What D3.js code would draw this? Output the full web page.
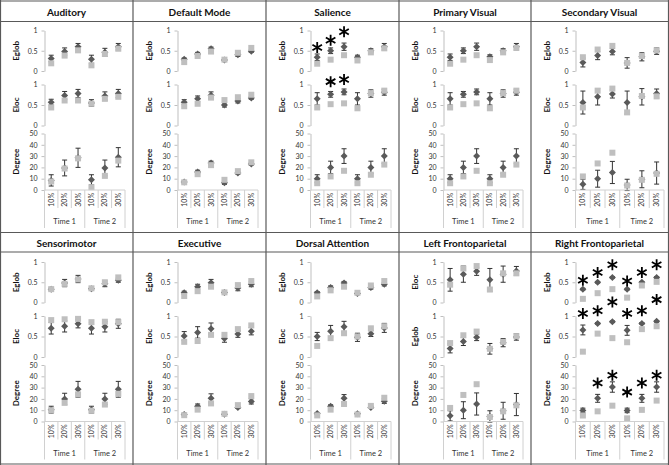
<!DOCTYPE html>
<html lang="en">
<head>
<meta charset="utf-8">
<style>
  body { margin: 0; background: #fff; }
  svg { display: block; font-family: Lato, "Open Sans", sans-serif; }
</style>
</head>
<body>
<script src="https://cdn.jsdelivr.net/npm/d3@7"></script>
<script>

// ---- data ----
var panels = ["Auditory", "Default Mode", "Salience", "Primary Visual", "Secondary Visual",
              "Sensorimotor", "Executive", "Dorsal Attention", "Left Frontoparietal", "Right Frontoparietal"];
var cats = ["10%", "20%", "30%", "10%", "20%", "30%"];
var times = ["Time 1", "Time 2"];
var topLabels = ["Eglob", "Eglob", "Eglob", "Eglob", "Eglob", "Eglob", "Eglob", "Eglob", "Eloc", "Eglob"];
var midLabels = ["Eloc", "Eloc", "Eloc", "Eloc", "Eloc", "Eloc", "Eloc", "Eloc", "Eglob", "Eloc"];
var effTicks = [0, 0.5, 1];
var degTicks = [0, 10, 20, 30, 40, 50];

// top sub-chart (Eglob, Eloc for Left Frontoparietal)
var topDark = [
  [0.31, 0.48, 0.60, 0.29, 0.46, 0.60],
  [0.29, 0.42, 0.55, 0.27, 0.40, 0.49],
  [0.34, 0.50, 0.60, 0.34, 0.50, 0.60],
  [0.34, 0.50, 0.60, 0.35, 0.50, 0.60],
  [0.21, 0.38, 0.48, 0.20, 0.35, 0.49],
  [0.33, 0.48, 0.58, 0.34, 0.46, 0.55],
  [0.24, 0.39, 0.49, 0.25, 0.36, 0.45],
  [0.24, 0.37, 0.48, 0.22, 0.37, 0.45],
  [0.56, 0.70, 0.77, 0.56, 0.70, 0.78],
  [0.33, 0.50, 0.62, 0.33, 0.50, 0.62]
];
var topErr = [
  [0.08, 0.09, 0.08, 0.10, 0.10, 0.08],
  [0.03, 0.04, 0.04, 0.03, 0.04, 0.03],
  [0.08, 0.07, 0.09, 0.05, 0.05, 0.08],
  [0.08, 0.07, 0.09, 0.05, 0.05, 0.08],
  [0.11, 0.10, 0.08, 0.13, 0.10, 0.08],
  [0.03, 0.09, 0.09, 0.03, 0.07, 0.05],
  [0.04, 0.06, 0.08, 0.02, 0.07, 0.06],
  [0.03, 0.04, 0.04, 0.02, 0.04, 0.04],
  [0.28, 0.20, 0.10, 0.28, 0.20, 0.11],
  [0.02, 0.02, 0.02, 0.02, 0.02, 0.02]
];
var topLight = [
  [0.19, 0.38, 0.51, 0.14, 0.42, 0.55],
  [0.22, 0.37, 0.48, 0.28, 0.45, 0.57],
  [0.18, 0.28, 0.39, 0.26, 0.46, 0.56],
  [0.18, 0.28, 0.39, 0.27, 0.46, 0.57],
  [0.34, 0.53, 0.62, 0.20, 0.37, 0.51],
  [0.33, 0.46, 0.57, 0.35, 0.50, 0.62],
  [0.16, 0.28, 0.39, 0.25, 0.43, 0.53],
  [0.15, 0.30, 0.39, 0.24, 0.42, 0.53],
  [0.44, 0.84, 0.90, 0.32, 0.72, 0.72],
  [0.09, 0.23, 0.33, 0.12, 0.42, 0.51]
];

// middle sub-chart (Eloc, Eglob for Left Frontoparietal)
var midDark = [
  [0.57, 0.73, 0.78, 0.55, 0.72, 0.78],
  [0.57, 0.65, 0.74, 0.50, 0.60, 0.67],
  [0.65, 0.76, 0.82, 0.65, 0.78, 0.81],
  [0.65, 0.76, 0.82, 0.65, 0.78, 0.81],
  [0.56, 0.70, 0.77, 0.56, 0.70, 0.78],
  [0.70, 0.75, 0.81, 0.70, 0.74, 0.81],
  [0.51, 0.60, 0.69, 0.45, 0.56, 0.63],
  [0.50, 0.63, 0.74, 0.48, 0.57, 0.71],
  [0.21, 0.38, 0.48, 0.20, 0.35, 0.49],
  [0.66, 0.82, 0.86, 0.65, 0.82, 0.87]
];
var midErr = [
  [0.07, 0.10, 0.10, 0.08, 0.10, 0.10],
  [0.06, 0.07, 0.08, 0.05, 0.05, 0.03],
  [0.15, 0.07, 0.07, 0.15, 0.09, 0.07],
  [0.15, 0.07, 0.07, 0.15, 0.09, 0.07],
  [0.28, 0.20, 0.10, 0.28, 0.20, 0.11],
  [0.14, 0.14, 0.10, 0.14, 0.13, 0.11],
  [0.11, 0.14, 0.14, 0.09, 0.08, 0.09],
  [0.10, 0.14, 0.13, 0.10, 0.07, 0.11],
  [0.11, 0.10, 0.08, 0.13, 0.10, 0.08],
  [0.12, 0.02, 0.02, 0.12, 0.02, 0.02]
];
var midLight = [
  [0.44, 0.61, 0.61, 0.53, 0.65, 0.70],
  [0.47, 0.53, 0.68, 0.62, 0.69, 0.75],
  [0.44, 0.52, 0.54, 0.42, 0.79, 0.85],
  [0.44, 0.52, 0.54, 0.42, 0.79, 0.85],
  [0.44, 0.85, 0.90, 0.32, 0.72, 0.71],
  [0.90, 0.92, 0.93, 0.85, 0.86, 0.85],
  [0.37, 0.39, 0.54, 0.54, 0.68, 0.77],
  [0.27, 0.46, 0.58, 0.50, 0.70, 0.75],
  [0.34, 0.53, 0.62, 0.20, 0.37, 0.51],
  [0.13, 0.57, 0.46, 0.36, 0.68, 0.75]
];

// Degree
var degDark = [
  [8.5, 19.5, 28.5, 9, 19.5, 29],
  [7, 16, 24, 6.5, 15, 23],
  [10, 20, 30, 10, 20, 30],
  [10, 20, 30, 10, 20, 30],
  [5, 10, 15.5, 4.5, 9.5, 15],
  [10.5, 20, 28.5, 10.5, 20, 28.5],
  [6.2, 13.5, 20.5, 6.5, 12.5, 17.8],
  [7, 13.5, 20.5, 6.8, 12.5, 18],
  [5, 10, 15.5, 4.5, 9.5, 15],
  [9.8, 20.5, 30.5, 9.8, 20.5, 30.5]
];
var degErr = [
  [5, 7, 8.5, 4.5, 7, 8.5],
  [1, 1.5, 1.5, 1.5, 1, 1],
  [3.5, 5.5, 6.5, 3.5, 5.5, 6.5],
  [3.5, 5.5, 6.5, 3.5, 5.5, 6.5],
  [4.5, 7.5, 9.8, 5, 7.5, 9.8],
  [3, 5, 7, 3, 5, 7],
  [1, 2, 4, 0.5, 1, 2.3],
  [1, 1.3, 3.3, 1, 1, 2],
  [4.5, 7.5, 9.8, 5, 7.5, 9.8],
  [2, 3.5, 4.6, 2, 3.5, 4.6]
];
var degLight = [
  [7.5, 19, 28, 2.5, 12.5, 26],
  [6.8, 14, 22, 9, 16.7, 24.5],
  [6, 12, 17, 6, 13.5, 22.5],
  [6, 12, 17, 6, 13.5, 22.5],
  [12, 23.5, 33, 4, 9, 14.3],
  [10, 16.5, 24, 9.5, 15, 24.5],
  [5.6, 10.5, 16, 6.8, 14.5, 22.5],
  [5.4, 10.5, 15.5, 6.2, 13.8, 21],
  [12, 23.5, 33, 4, 9, 14.3],
  [5.3, 9, 14, 2.8, 10.3, 18.5]
];

// significance asterisks: level (in axis units) where each one sits, null = none
var starsTop = { 2: [0.58, 0.76, 0.97, null, null, null], 9: [0.55, 0.74, 0.93, 0.53, 0.74, 0.93] };
var starsMid = { 2: [null, 1.07, 1.12, null, null, null], 9: [1.06, 1.13, 1.34, 1.06, 1.13, 1.40] };
var starsDeg = { 9: [null, 34, 41, 26, 34, 41] };

// ---- layout ----
var W = 669, H = 465;
var colX = [0, 133, 266, 399, 531, 668];
var rowY = [0, 231.5];
var darkCol = "#5a5a5a", lightCol = "#bfbfbf", lineCol = "#595959";

var svg = d3.select("body").append("svg")
  .attr("width", W)
  .attr("height", H);

// frame / table lines
var hLines = [1, 21.5, 232.5, 252, 464];
var vLines = [0.5, 133, 266, 399, 531, 668.5];
svg.append("g").selectAll("line").data(hLines).enter().append("line")
  .attr("x1", 0).attr("x2", W)
  .attr("y1", function(d) { return d; }).attr("y2", function(d) { return d; })
  .attr("stroke", lineCol).attr("stroke-width", 1.2);
svg.append("g").selectAll("line").data(vLines).enter().append("line")
  .attr("y1", 0).attr("y2", H)
  .attr("x1", function(d) { return d; }).attr("x2", function(d) { return d; })
  .attr("stroke", lineCol).attr("stroke-width", 1.2);

var diamond = "M0,-3.5L3.5,0L0,3.5L-3.5,0Z";
var star = d3.symbol(d3.symbolAsterisk, 85)();

panels.forEach(function(name, p) {
  var col = p % 5, row = Math.floor(p / 5);
  var px = colX[col], pw = colX[col + 1] - colX[col];
  var g = svg.append("g").attr("transform", "translate(" + px + "," + rowY[row] + ")");

  g.append("text")
    .attr("x", pw / 2).attr("y", 15.5)
    .attr("text-anchor", "middle")
    .attr("font-weight", "bold").attr("font-size", 10)
    .attr("fill", "#111")
    .text(name);

  var x = d3.scaleBand().domain(d3.range(6))
    .range([44.5, col === 4 ? pw - 4 : pw - 8]);

  var subs = [
    { label: topLabels[p], range: [71, 30.5], domain: [0, 1], ticks: effTicks, fmt: d3.format(""),
      dark: topDark[p], err: topErr[p], light: topLight[p], stars: starsTop[p] },
    { label: midLabels[p], range: [125.5, 84.5], domain: [0, 1], ticks: effTicks, fmt: d3.format(""),
      dark: midDark[p], err: midErr[p], light: midLight[p], stars: starsMid[p] },
    { label: "Degree", range: [190, 133.5], domain: [0, 50], ticks: degTicks, fmt: d3.format("d"),
      dark: degDark[p], err: degErr[p], light: degLight[p], stars: starsDeg[p] }
  ];

  subs.forEach(function(s) {
    var y = d3.scaleLinear().domain(s.domain).range(s.range);

    var ax = g.append("g")
      .attr("transform", "translate(" + x.range()[0] + ",0)")
      .call(d3.axisLeft(y).tickValues(s.ticks).tickFormat(s.fmt).tickSize(3).tickPadding(4).tickSizeOuter(0));
    ax.select(".domain").attr("stroke", "#bfbfbf");
    ax.selectAll(".tick line").attr("stroke", "#bfbfbf");
    ax.selectAll("text").attr("font-size", 7).attr("fill", "#333").attr("font-family", "Lato, sans-serif");

    g.append("text")
      .attr("transform", "translate(19," + (s.range[0] + s.range[1]) / 2 + ") rotate(-90)")
      .attr("text-anchor", "middle")
      .attr("font-weight", "bold").attr("font-size", 8)
      .attr("fill", "#111")
      .text(s.label);

    var pts = s.dark.map(function(d, i) { return { i: i, d: d, e: s.err[i], l: s.light[i] }; });
    var cx = function(d) { return x(d.i) + x.bandwidth() / 2; };

    var eb = g.append("g").attr("stroke", "#333").attr("stroke-width", 1);
    eb.selectAll(".v").data(pts).enter().append("line")
      .attr("x1", cx).attr("x2", cx)
      .attr("y1", function(d) { return y(d.d - d.e); })
      .attr("y2", function(d) { return y(d.d + d.e); });
    [-1, 1].forEach(function(sg) {
      eb.selectAll(".c" + sg).data(pts).enter().append("line")
        .attr("x1", function(d) { return cx(d) - 2.5; })
        .attr("x2", function(d) { return cx(d) + 2.5; })
        .attr("y1", function(d) { return y(d.d + sg * d.e); })
        .attr("y2", function(d) { return y(d.d + sg * d.e); });
    });

    g.append("g").selectAll("path").data(pts).enter().append("path")
      .attr("d", diamond)
      .attr("fill", darkCol)
      .attr("transform", function(d) { return "translate(" + cx(d) + "," + y(d.d) + ")"; });

    g.append("g").selectAll("rect").data(pts).enter().append("rect")
      .attr("x", function(d) { return cx(d) - 3; })
      .attr("y", function(d) { return y(d.l) - 3; })
      .attr("width", 6).attr("height", 6)
      .attr("fill", lightCol);

    if (s.stars) {
      g.append("g").selectAll("path")
        .data(s.stars.map(function(v, i) { return { i: i, v: v }; }).filter(function(d) { return d.v != null; }))
        .enter().append("path")
        .attr("d", star)
        .attr("fill", "none").attr("stroke", "#000").attr("stroke-width", 1.8)
        .attr("transform", function(d) { return "translate(" + cx(d) + "," + y(d.v) + ")"; });
    }
  });

  // two-level category axis
  var bw = x.bandwidth(), x0 = x.range()[0], x1 = x.range()[1];
  var cat = g.append("g").attr("stroke", "#d0d0d0").attr("stroke-width", 1);
  cat.append("line").attr("x1", x0).attr("x2", x1).attr("y1", 190).attr("y2", 190);
  cat.selectAll(".div").data(d3.range(7)).enter().append("line")
    .attr("x1", function(i) { return x0 + i * bw; })
    .attr("x2", function(i) { return x0 + i * bw; })
    .attr("y1", 190)
    .attr("y2", function(i) { return i % 3 === 0 ? 228 : 208; });

  g.append("g").selectAll("text").data(cats).enter().append("text")
    .attr("transform", function(d, i) {
      return "translate(" + (x(i) + bw / 2 + 2.5) + ",193) rotate(-90)";
    })
    .attr("text-anchor", "end")
    .attr("font-size", 7).attr("fill", "#333")
    .text(function(d) { return d; });

  g.append("g").selectAll("text").data(times).enter().append("text")
    .attr("x", function(d, i) { return x0 + (i * 3 + 1.5) * bw; })
    .attr("y", 224)
    .attr("text-anchor", "middle")
    .attr("font-size", 7.5).attr("fill", "#333")
    .text(function(d) { return d; });
});

</script>
</body>
</html>
